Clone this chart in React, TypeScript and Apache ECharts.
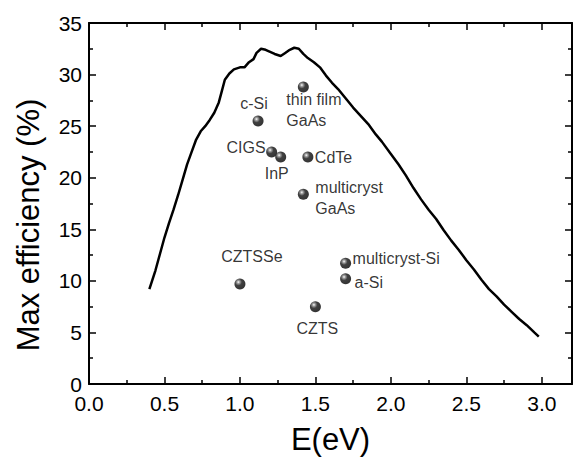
import React, { useEffect, useRef } from "react";
import * as echarts from "echarts";

const curveE = [0.40,0.42,0.44,0.47,0.50,0.53,0.56,0.59,0.62,0.65,0.68,0.71,0.74,0.77,0.80,0.83,0.86,0.88,0.90,0.93,0.96,1.00,1.03,1.06,1.09,1.11,1.14,1.17,1.20,1.23,1.27,1.30,1.33,1.36,1.39,1.42,1.45,1.49,1.53,1.57,1.61,1.65,1.70,1.75,1.80,1.85,1.90,1.94,2.00,2.05,2.10,2.15,2.20,2.25,2.30,2.35,2.40,2.45,2.50,2.55,2.60,2.65,2.70,2.75,2.80,2.85,2.90,2.95,2.98];
const curveEff = [9.2,10.1,11.0,12.6,14.2,15.6,16.9,18.3,19.8,21.3,22.5,23.7,24.5,25.0,25.6,26.3,27.3,28.4,29.5,30.1,30.5,30.7,30.7,31.2,31.5,32.1,32.5,32.4,32.2,32.0,31.8,32.1,32.4,32.6,32.5,32.0,31.6,31.2,30.7,29.9,29.2,28.6,27.7,26.8,26.0,25.2,24.2,23.5,22.3,21.3,20.2,19.0,17.9,16.9,16.0,14.9,13.9,13.0,12.0,11.1,10.1,9.2,8.5,7.7,7.0,6.3,5.7,5.0,4.6];

const materials = ["c-Si", "thin film\nGaAs", "CIGS", "InP", "CdTe", "multicryst\nGaAs", "CZTSSe", "multicryst-Si", "a-Si", "CZTS"];
const matE = [1.12, 1.42, 1.21, 1.27, 1.45, 1.42, 1.0, 1.7, 1.7, 1.5];
const matEff = [25.5, 28.8, 22.5, 22.0, 22.0, 18.4, 9.7, 11.7, 10.2, 7.5];

const xTicks = ["0.0", "0.5", "1.0", "1.5", "2.0", "2.5", "3.0"];

// label placement: [dx, dy, align, verticalAlign]
const labelPlace: [number, number, string, string][] = [
  [-4, -17, "center", "middle"],
  [-17, 2, "left", "top"],
  [-6, -4, "right", "middle"],
  [-4, 16, "center", "middle"],
  [7, 0, "left", "middle"],
  [12, 4, "left", "middle"],
  [12, -27, "center", "middle"],
  [7, -5, "left", "middle"],
  [9, 4, "left", "middle"],
  [2, 22, "center", "middle"],
];

const FONT = "'Liberation Sans', Arial, sans-serif";

function axis(extra: any) {
  return {
    type: "value",
    axisLine: { show: true, onZero: false, lineStyle: { color: "#000", width: 2 } },
    axisTick: { show: true, inside: true, length: 7, lineStyle: { color: "#000", width: 1.5 } },
    minorTick: { show: true, splitNumber: 2, length: 4, lineStyle: { color: "#000", width: 1.5 } },
    splitLine: { show: false },
    ...extra,
  };
}

export default function App() {
  const ref = useRef<HTMLDivElement>(null);
  useEffect(() => {
    if (!ref.current) return;
    const chart = echarts.init(ref.current, undefined, { renderer: "svg" });
    const symSize = 11;
    const ball = new echarts.graphic.RadialGradient(0.36, 0.33, 0.7, [
      { offset: 0, color: "#ffffff" },
      { offset: 0.18, color: "#8a8a8a" },
      { offset: 0.45, color: "#111111" },
      { offset: 1, color: "#000000" },
    ]);
    chart.setOption({
      animation: false,
      backgroundColor: "#fff",
      grid: { left: 89, right: 1, top: 23, bottom: 73, outerBoundsMode: "none" },
      xAxis: [
        axis({
          min: 0, max: 3.2, interval: 0.5, position: "bottom",
          axisLabel: {
            show: true, color: "#000", fontSize: 21, fontFamily: FONT, margin: 9,
            formatter: (v: number) => {
              const i = Math.round(v / 0.5);
              return Math.abs(v - i * 0.5) < 1e-6 && i < xTicks.length ? xTicks[i] : "";
            },
          },
          name: "E(eV)", nameLocation: "middle", nameGap: 40,
          nameTextStyle: { color: "#000", fontSize: 31, fontFamily: FONT },
        }),
        axis({ min: 0, max: 3.2, interval: 0.5, position: "top", axisLabel: { show: false } }),
      ],
      yAxis: [
        axis({
          min: 0, max: 35, interval: 5, position: "left",
          axisLabel: { show: true, color: "#000", fontSize: 21, fontFamily: FONT, margin: 7 },
        }),
        axis({ min: 0, max: 35, interval: 5, position: "right", axisLabel: { show: false } }),
      ],
      graphic: [
        {
          type: "text", x: 28, y: 225, rotation: Math.PI / 2,
          style: { text: "Max efficiency (%)", fill: "#000", font: `31px ${FONT}`, align: "center", verticalAlign: "middle" },
        },
      ],
      series: [
        {
          type: "line", xAxisIndex: 0, yAxisIndex: 0,
          data: curveE.map((e, i) => [e, curveEff[i]]),
          showSymbol: false, symbol: "none",
          lineStyle: { color: "#000", width: 2.5 }, z: 2,
        },
        {
          type: "scatter", xAxisIndex: 0, yAxisIndex: 0,
          symbol: "circle", symbolSize: symSize, itemStyle: { color: ball }, z: 3,
          data: materials.map((m, i) => {
            const [dx, dy, align, va] = labelPlace[i];
            return {
              name: m, value: [matE[i], matEff[i]],
              label: {
                show: true, formatter: m, position: [symSize / 2 + dx, symSize / 2 + dy],
                align, verticalAlign: va, color: "#000", fontSize: 16, lineHeight: 21, fontFamily: FONT,
              },
            };
          }),
        },
        {
          type: "line", xAxisIndex: 1, yAxisIndex: 1, data: [[0, 0]],
          symbol: "none", lineStyle: { opacity: 0 }, silent: true,
        },
      ],
    });
    return () => chart.dispose();
  }, []);
  return (
    <div ref={ref} style={{ position: "fixed", left: 0, top: 0, width: 573, height: 457 }} />
  );
}
